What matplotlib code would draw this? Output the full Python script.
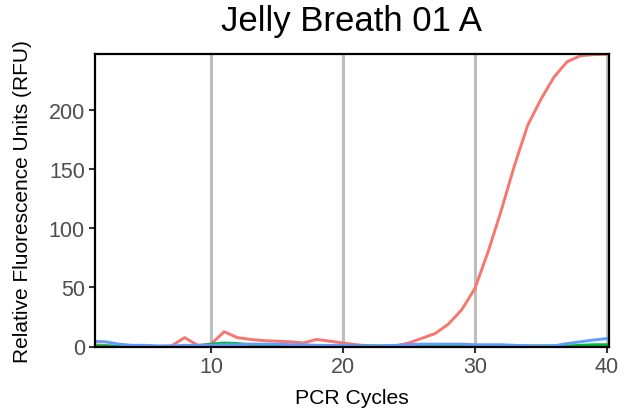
import matplotlib
matplotlib.use('Agg')
import matplotlib.pyplot as plt

plt.rcParams['font.family'] = ['Liberation Sans', 'DejaVu Sans']

ciclos = list(range(1, 41))

# amostras (leitura aproximada do grafico)
vermelho = [1.5, 1, 0, 0, 0, 0, 0.5, 7.5, 1, 2,
            12.5, 7.5, 6, 5, 4.5, 4, 3, 6, 4.5, 3,
            1.5, 0.5, 0, 0.5, 3, 7, 11, 19, 31, 49,
            80, 115, 153, 187, 209, 228, 241, 246, 247, 247.3]
verde = [0.5, 0.5, 0, 0, 0, 0, 0, 0, 0.5, 2,
         3, 2.5, 1.5, 1, 1, 0.5, 0.5, 0.5, 0.5, 0.5,
         0.5, 0.5, 0.5, 0.5, 0.5, 0.5, 0.5, 0.5, 0.5, 0.5,
         0.5, 0.5, 0.5, 0.5, 0.5, 0.5, 0.5, 1, 1.5, 1.5]
azul = [4.5, 4, 2, 1, 1, 0.5, 0.5, 1, 1, 1,
        1.5, 1.5, 2, 2, 2, 1.5, 1.5, 1, 1, 1,
        0.5, 0.5, 0.5, 1, 1.5, 2, 2, 2, 2, 1.5,
        1.5, 1.5, 1, 0.5, 0.5, 0.5, 2.5, 4, 5.5, 6.7]

xticks = [10, 20, 30, 40]
yticks = [0, 50, 100, 150, 200]

fig = plt.figure(figsize=(6.32, 4.14), dpi=100)
ax = fig.add_axes([94.5 / 632, 1 - 347.5 / 414, (609 - 94.5) / 632, (347.5 - 55) / 414])

ax.plot(ciclos, vermelho, color='#F8766D', lw=2.1)
ax.plot(ciclos, verde, color='#00BA38', lw=2.1)
ax.plot(ciclos, azul, color='#619CFF', lw=2.1)

ax.set_xlim(1.17, 40.17)
ax.set_ylim(0, 247.5)
ax.set_xticks(xticks)
ax.set_yticks(yticks)
ax.grid(True, axis='x', color='#BEBEBE', lw=2.2)
ax.set_axisbelow(True)

for s in ax.spines.values():
    s.set_linewidth(1.6)
    s.set_color('black')

ax.tick_params(axis='both', labelsize=15.5, labelcolor='#4D4D4D', color='#333333',
               length=4, width=1.5, pad=3)

ax.set_xlabel('PCR Cycles', fontsize=15.2, labelpad=8)
ax.set_ylabel('Relative Fluorescence Units (RFU)', fontsize=15, labelpad=12)
ax.set_title('Jelly Breath 01 A', fontsize=25, pad=17)

fig.savefig('out.png', dpi=100)
